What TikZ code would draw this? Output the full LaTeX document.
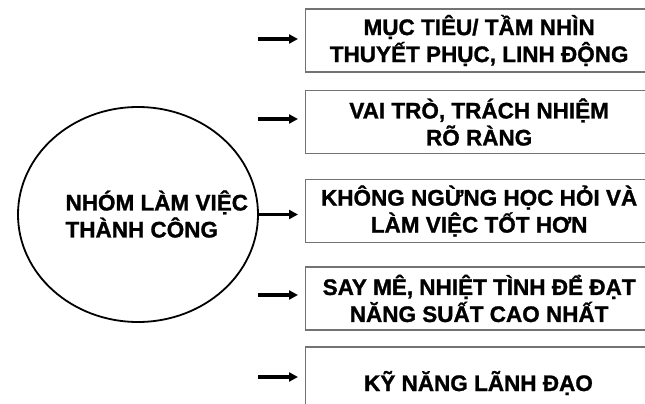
\documentclass[tikz,border=0pt]{standalone}
\usepackage{fontspec}
\setmainfont{Liberation Sans}
\newfontfamily\boldlab{Liberation Sans Bold}[FakeBold=1.2]
\usetikzlibrary{shapes.geometric,arrows.meta,calc}
\begin{document}
\begin{tikzpicture}[x=1pt,y=-1pt,
  lbl/.style={font=\boldlab\fontsize{22.5}{27}\selectfont, align=center, text=black},
  itembox/.style={draw=black!55, line width=1.3pt, rectangle, minimum width=347pt, minimum height=63pt, anchor=west, inner sep=0pt},
  arr/.style={line width=3.4pt, -{Triangle[length=9pt,width=9pt]}, shorten >=7pt},
  circ/.style={draw=black, line width=1.8pt, ellipse, minimum width=240pt, minimum height=215pt, inner sep=0pt}
]
\clip (0,0) rectangle (645,404);
\fill[white] (0,0) rectangle (645,404);

\node[circ] (e) at (138,214.5) {};
\node[lbl, align=left, anchor=west] (et) at (62,214) {NHÓM LÀM VIỆC\\THÀNH CÔNG};

\node[itembox, lbl] (b1) at (305,40.5) {MỤC TIÊU/ TẦM NHÌN\\THUYẾT PHỤC, LINH ĐỘNG};
\node[itembox, lbl] (b2) at (305,122) {VAI TRÒ, TRÁCH NHIỆM\\RÕ RÀNG};
\node[itembox, lbl] (b3) at (305,211) {KHÔNG NGỪNG HỌC HỎI VÀ\\LÀM VIỆC TỐT HƠN};
\node[itembox, lbl] (b4) at (305,298.5) {SAY MÊ, NHIỆT TÌNH ĐỂ ĐẠT\\NĂNG SUẤT CAO NHẤT};
\node[itembox, lbl] (b5) at (305,378.5) {};
\node[lbl] (b5t) at (478.5,383) {KỸ NĂNG LÃNH ĐẠO};

\coordinate (a1) at (258,39);
\coordinate (a2) at (258,119);
\coordinate (a4) at (258,295);
\coordinate (a5) at (258,377);

\draw[arr] (a1) -- (a1 -| b1.west);
\draw[arr] (a2) -- (a2 -| b2.west);
\draw[arr] (e.east) -- (e.east -| b3.west);
\draw[arr] (a4) -- (a4 -| b4.west);
\draw[arr] (a5) -- (a5 -| b5.west);
\end{tikzpicture}
\end{document}
